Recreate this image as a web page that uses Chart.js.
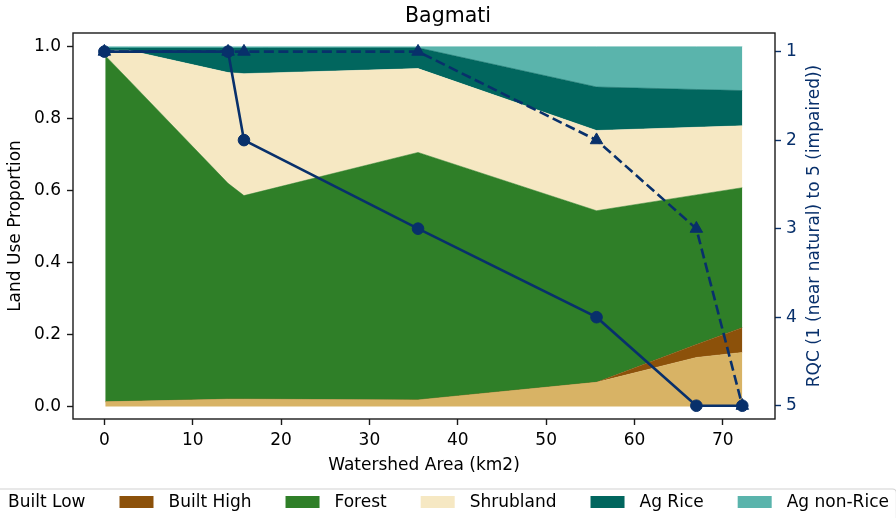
<!DOCTYPE html>
<html>
<head>
<meta charset="utf-8">
<title>Bagmati</title>
<script src="https://cdn.jsdelivr.net/npm/chart.js@4/dist/chart.umd.min.js"></script>
<style>
  html, body { margin: 0; padding: 0; background: #fff; overflow: hidden; }
  #wrap { width: 896px; height: 518px; position: relative; }
</style>
</head>
<body>
<div id="wrap"><canvas id="chart" width="896" height="518"></canvas></div>
<script>
// Watershed area (km2) at each sampled reach, used for the land-use stack
const areaX = [0.1, 2.7, 14, 15.8, 35.5, 55.7, 67, 72.2];

// Land-use proportions (stacked bottom to top)
const builtLow   = [0.013, 0.014, 0.020, 0.020, 0.018, 0.067, 0.136, 0.150];
const builtHigh  = [0.000, 0.000, 0.000, 0.000, 0.000, 0.000, 0.036, 0.069];
const forest     = [0.962, 0.895, 0.600, 0.566, 0.688, 0.477, 0.416, 0.389];
const shrubland  = [0.015, 0.081, 0.308, 0.339, 0.233, 0.223, 0.188, 0.172];
const agRice     = [0.006, 0.006, 0.068, 0.071, 0.058, 0.121, 0.105, 0.098];
const agNonRice  = [0.004, 0.004, 0.004, 0.004, 0.003, 0.112, 0.119, 0.122];

// River quality class at the same reaches (1 near natural .. 5 impaired)
const rqcX      = [0, 14, 15.8, 35.5, 55.7, 67, 72.2];
const rqcSolid  = [1, 1, 2, 3, 4, 5, 5];
const rqcDashed = [1, 1, 1, 1, 2, 3, 5];

// Tick labels
const xTicks   = [0, 10, 20, 30, 40, 50, 60, 70];
const yTicks   = [0.0, 0.2, 0.4, 0.6, 0.8, 1.0];
const rqcTicks = [1, 2, 3, 4, 5];

const layerNames  = ['Built Low', 'Built High', 'Forest', 'Shrubland', 'Ag Rice', 'Ag non-Rice'];
const layerValues = [builtLow, builtHigh, forest, shrubland, agRice, agNonRice];
const layerColors = ['#d8b365', '#8c510a', '#2f7f28', '#f6e8c3', '#01665e', '#5ab4ac'];

const NAVY = '#08306b';
const FONT = '"DejaVu Sans", "Liberation Sans", sans-serif';
const RQC_TITLE = 'RQC (1 (near natural) to 5 (impaired))';

const toPoints = (xs, ys) => xs.map((x, i) => ({ x: x, y: ys[i] }));

const areaSets = layerNames.map((name, i) => ({
  label: name,
  data: toPoints(areaX, layerValues[i]),
  yAxisID: 'y',
  backgroundColor: layerColors[i],
  borderColor: layerColors[i],
  borderWidth: 0.5,
  pointRadius: 0,
  pointHitRadius: 0,
  tension: 0,
  fill: i === 0 ? 'origin' : '-1',
  order: 2
}));

const lineSets = [
  {
    label: 'RQC',
    data: toPoints(rqcX, rqcSolid),
    yAxisID: 'y2',
    borderColor: NAVY,
    backgroundColor: NAVY,
    borderWidth: 2.6,
    pointStyle: 'circle',
    pointRadius: 5.8,
    pointBackgroundColor: NAVY,
    pointBorderColor: NAVY,
    pointBorderWidth: 1,
    tension: 0,
    fill: false,
    order: 0
  },
  {
    label: 'RQC (dashed)',
    data: toPoints(rqcX, rqcDashed),
    yAxisID: 'y2',
    borderColor: NAVY,
    backgroundColor: NAVY,
    borderWidth: 2.6,
    borderDash: [10, 4.5],
    pointStyle: 'triangle',
    pointRadius: 7.2,
    pointBackgroundColor: NAVY,
    pointBorderColor: NAVY,
    pointBorderWidth: 1,
    tension: 0,
    fill: false,
    order: 1
  }
];

// Box around the plotting area (all four spines)
const frameBox = {
  id: 'frameBox',
  afterDatasetsDraw(chart) {
    const { ctx, chartArea: a } = chart;
    ctx.save();
    ctx.strokeStyle = '#1a1a1a';
    ctx.lineWidth = 1.4;
    ctx.strokeRect(a.left, a.top, a.right - a.left, a.bottom - a.top);
    ctx.restore();
  }
};

// Right-hand axis title, reading bottom to top
const rqcTitle = {
  id: 'rqcTitle',
  afterDraw(chart) {
    const { ctx, chartArea: a } = chart;
    ctx.save();
    ctx.font = '17px ' + FONT;
    ctx.fillStyle = NAVY;
    ctx.textAlign = 'center';
    ctx.textBaseline = 'middle';
    ctx.translate(a.right + 40, (a.top + a.bottom) / 2);
    ctx.rotate(-Math.PI / 2);
    ctx.fillText(RQC_TITLE, 0, 0);
    ctx.restore();
  }
};

// Single-row legend for the land-use layers, centred under the axes
const bottomLegend = {
  id: 'bottomLegend',
  afterDraw(chart) {
    const { ctx, chartArea: a } = chart;
    ctx.save();
    ctx.font = '17px ' + FONT;
    const patchW = 34, patchH = 12, gap = 15, spacing = 34;
    const widths = layerNames.map(n => ctx.measureText(n).width);
    const total = layerNames.length * (patchW + gap) +
                  widths.reduce((s, w) => s + w, 0) +
                  (layerNames.length - 1) * spacing;
    const cx = (a.left + a.right) / 2;
    let x = cx - total / 2;
    const top = 489, rowY = 502;

    ctx.fillStyle = 'rgba(255,255,255,0.8)';
    ctx.strokeStyle = 'rgba(204,204,204,0.9)';
    ctx.lineWidth = 1.2;
    ctx.beginPath();
    ctx.roundRect(x - 7.5, top, total + 15, 50, 4);
    ctx.fill();
    ctx.stroke();

    ctx.textBaseline = 'middle';
    ctx.textAlign = 'left';
    layerNames.forEach((name, i) => {
      ctx.fillStyle = layerColors[i];
      ctx.fillRect(x, rowY - patchH / 2, patchW, patchH);
      x += patchW + gap;
      ctx.fillStyle = '#000';
      ctx.fillText(name, x, rowY + 1);
      x += widths[i] + spacing;
    });
    ctx.restore();
  }
};

new Chart(document.getElementById('chart'), {
  type: 'line',
  data: { datasets: areaSets.concat(lineSets) },
  options: {
    responsive: false,
    animation: false,
    devicePixelRatio: 1,
    layout: { padding: 0 },
    plugins: {
      legend: { display: false },
      tooltip: { enabled: false },
      title: {
        display: true,
        text: 'Bagmati',
        color: '#000',
        font: { family: FONT, size: 20.5, weight: 'normal', lineHeight: 1.2 },
        padding: { top: 4, bottom: 4.4 }
      }
    },
    scales: {
      x: {
        type: 'linear',
        min: -3.55,
        max: 75.9,
        afterBuildTicks: s => { s.ticks = xTicks.map(v => ({ value: v })); },
        afterFit: s => { s.height = 99; },
        grid: { drawOnChartArea: false, drawTicks: true, tickLength: 6, tickWidth: 1.4, tickColor: '#1a1a1a' },
        border: { display: false },
        ticks: {
          color: '#000',
          padding: 5,
          maxRotation: 0,
          font: { family: FONT, size: 17 },
          callback: v => String(v)
        },
        title: {
          display: true,
          text: 'Watershed Area (km2)',
          color: '#000',
          font: { family: FONT, size: 17, lineHeight: 1.2 },
          padding: { top: 0, bottom: 41.8 }
        }
      },
      y: {
        type: 'linear',
        position: 'left',
        stacked: true,
        min: -0.035,
        max: 1.038,
        afterBuildTicks: s => { s.ticks = yTicks.map(v => ({ value: v })); },
        afterFit: s => { s.width = 73; },
        grid: { drawOnChartArea: false, drawTicks: true, tickLength: 6, tickWidth: 1.4, tickColor: '#1a1a1a' },
        border: { display: false },
        ticks: {
          color: '#000',
          padding: 6,
          font: { family: FONT, size: 17 },
          callback: v => Number(v).toFixed(1)
        },
        title: {
          display: true,
          text: 'Land Use Proportion',
          color: '#000',
          font: { family: FONT, size: 17, lineHeight: 1.2 },
          padding: { top: 5.8, bottom: 0 }
        }
      },
      y2: {
        type: 'linear',
        position: 'right',
        stacked: false,
        reverse: true,
        min: 0.79,
        max: 5.15,
        afterBuildTicks: s => { s.ticks = rqcTicks.map(v => ({ value: v })); },
        afterFit: s => { s.width = 121; },
        grid: { drawOnChartArea: false, drawTicks: true, tickLength: 6, tickWidth: 1.4, tickColor: NAVY },
        border: { display: false },
        ticks: {
          color: NAVY,
          padding: 5,
          font: { family: FONT, size: 17 },
          callback: v => String(v)
        },
        title: { display: false }
      }
    }
  },
  plugins: [frameBox, rqcTitle, bottomLegend]
});
</script>
</body>
</html>
